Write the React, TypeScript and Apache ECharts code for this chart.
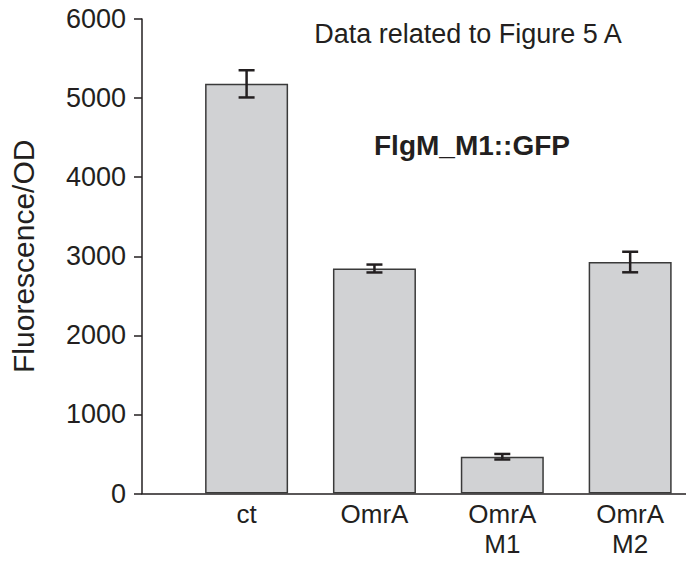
import React, { useEffect, useRef } from "react";
import * as echarts from "echarts";

const categories = ["ct", "OmrA", "OmrA\nM1", "OmrA\nM2"];
const positions = [1, 2, 3, 4];
const values = [5180, 2845, 465, 2927];
const errors = [172, 50, 35, 130];
const yTicks = [0, 1000, 2000, 3000, 4000, 5000, 6000];

const FONT = "'Liberation Sans', Arial, sans-serif";
const INK = "#231f20";

export default function App() {
  const ref = useRef<HTMLDivElement>(null);
  useEffect(() => {
    if (!ref.current) return;
    const chart = echarts.init(ref.current, null, { renderer: "svg" });
    const barData = positions.map((p, i) => [p, values[i]]);
    const errData = positions.map((p, i) => [p, values[i] - errors[i], values[i] + errors[i]]);
    chart.setOption({
      animation: false,
      backgroundColor: "#ffffff",
      textStyle: { fontFamily: FONT },
      title: [
        {
          text: "Data related to Figure 5 A",
          left: 463,
          top: 15,
          textAlign: "center",
          textStyle: { fontFamily: FONT, fontSize: 27, fontWeight: "normal", color: INK },
        },
        {
          text: "FlgM_M1::GFP",
          left: 467,
          top: 126,
          textAlign: "center",
          textStyle: { fontFamily: FONT, fontSize: 28, fontWeight: "bold", color: INK },
        },
      ],
      grid: { left: 140, right: 4, top: 19, bottom: 69.5, containLabel: false },
      xAxis: {
        type: "value",
        min: 0.182,
        max: 4.468,
        axisLine: { show: true, onZero: false, lineStyle: { color: INK, width: 1.5 } },
        axisTick: { show: false },
        splitLine: { show: false },
        axisLabel: {
          customValues: positions,
          formatter: (v: number) => categories[Math.round(v) - 1] ?? "",
          fontFamily: FONT,
          fontSize: 26,
          color: INK,
          margin: 5,
          lineHeight: 30,
        },
      },
      yAxis: {
        type: "value",
        min: 0,
        max: 6000,
        interval: 1000,
        name: "Fluorescence/OD",
        nameLocation: "middle",
        nameGap: 104,
        nameTextStyle: { fontFamily: FONT, fontSize: 30, color: INK },
        axisLine: { show: true, lineStyle: { color: INK, width: 1.5 } },
        axisTick: { show: true, inside: false, length: 8, lineStyle: { color: INK, width: 1.5 } },
        splitLine: { show: false },
        axisLabel: {
          customValues: yTicks,
          formatter: (v: number) => String(v),
          fontFamily: FONT,
          fontSize: 27,
          color: INK,
          margin: 16,
        },
      },
      series: [
        {
          type: "bar",
          data: barData,
          barWidth: 83,
          itemStyle: { color: "#d1d2d4", borderColor: "#3a3a3a", borderWidth: 1.5 },
        },
        {
          type: "custom",
          data: errData,
          z: 10,
          renderItem: (params: any, api: any) => {
            const x = api.value(0);
            const lo = api.coord([x, api.value(1)]);
            const hi = api.coord([x, api.value(2)]);
            const hw = 8;
            const style = { stroke: INK, lineWidth: 2.5, fill: "none" };
            return {
              type: "group",
              children: [
                { type: "line", shape: { x1: lo[0], y1: lo[1], x2: hi[0], y2: hi[1] }, style },
                { type: "line", shape: { x1: lo[0] - hw, y1: lo[1], x2: lo[0] + hw, y2: lo[1] }, style },
                { type: "line", shape: { x1: hi[0] - hw, y1: hi[1], x2: hi[0] + hw, y2: hi[1] }, style },
              ],
            };
          },
        },
      ],
    });
    return () => chart.dispose();
  }, []);
  return <div ref={ref} style={{ width: 694, height: 563, margin: -8 }} />;
}
